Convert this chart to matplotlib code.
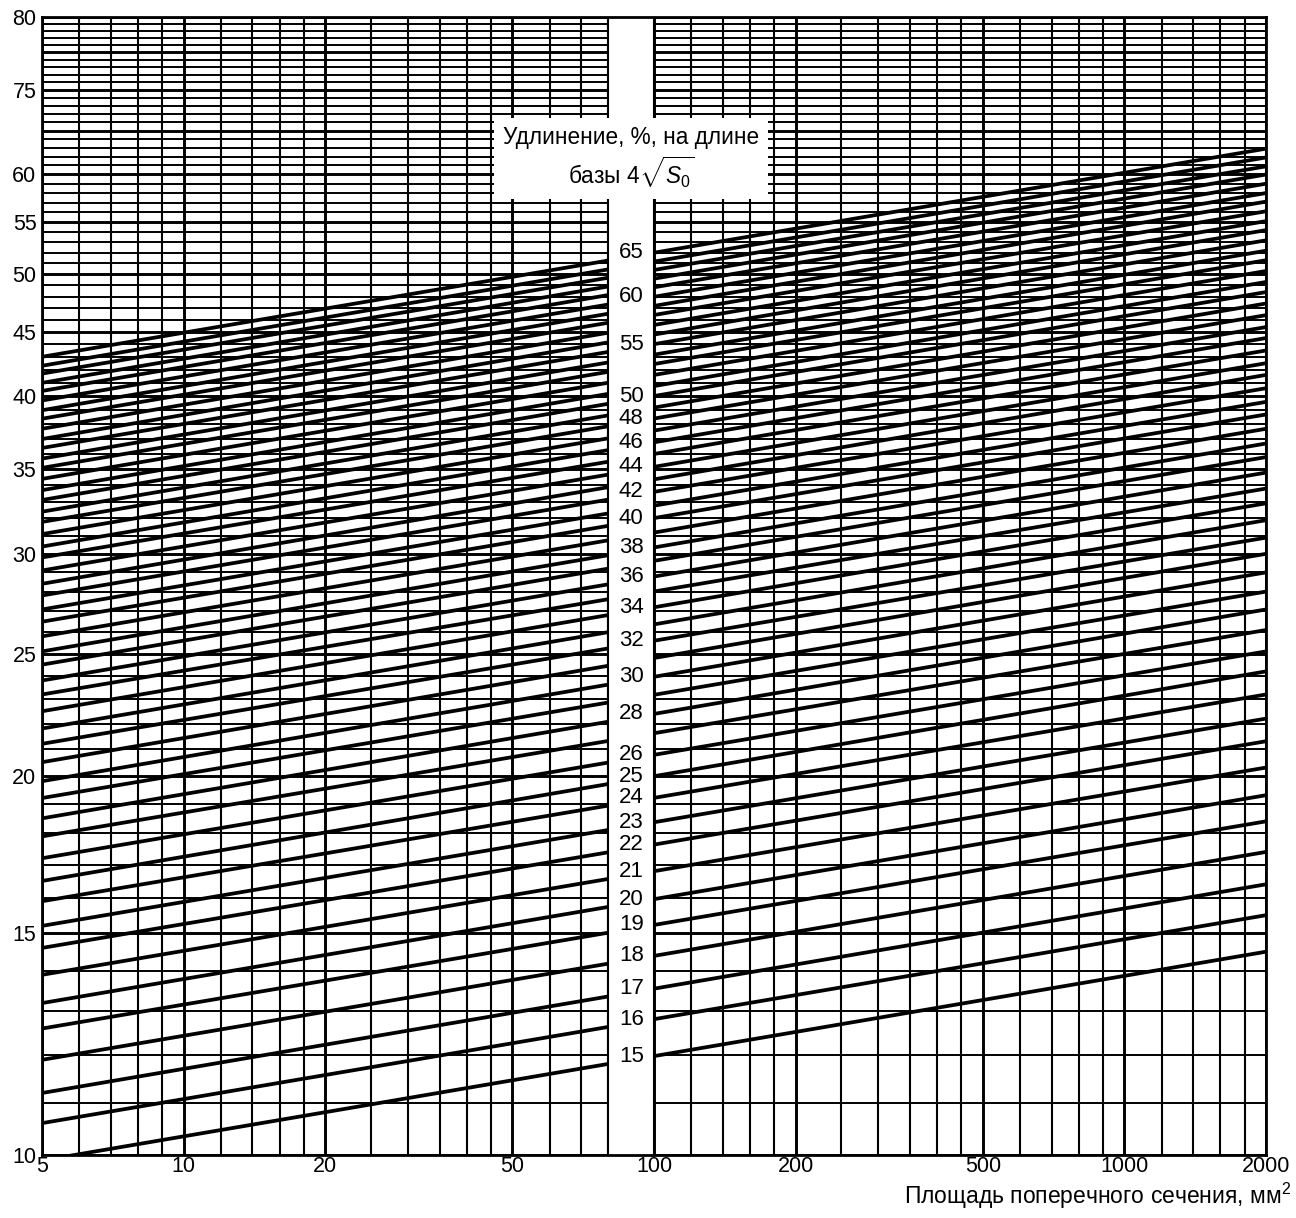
import matplotlib
matplotlib.use("Agg")
import matplotlib.pyplot as plt
import numpy as np

plt.rcParams['font.family'] = ['Liberation Sans', 'DejaVu Sans']
plt.rcParams['mathtext.fontset'] = 'custom'
plt.rcParams['mathtext.rm'] = 'Liberation Sans'
plt.rcParams['mathtext.it'] = 'Liberation Sans:italic'

# =============================================================================
# data
# =============================================================================
# elongation on gauge length 4*sqrt(S0), one line each
elong = list(range(15, 66))
# value of each line at S0 = 5 mm2 (left edge) and S0 = 2000 mm2 (right edge)
y_left = [9.9, 10.6, 11.2, 11.9, 12.6, 13.2, 13.9, 14.6, 15.2, 15.9,
          16.5, 17.2, 17.9, 18.5, 19.2, 19.8, 20.5, 21.2, 21.8, 22.5,
          23.2, 23.8, 24.5, 25.1, 25.8, 26.5, 27.1, 27.8, 28.4, 29.1,
          29.8, 30.4, 31.1, 31.8, 32.4, 33.1, 33.7, 34.4, 35.1, 35.7,
          36.4, 37.0, 37.7, 38.4, 39.0, 39.7, 40.4, 41.0, 41.7, 42.3, 43.0]
y_right = [14.5, 15.5, 16.4, 17.4, 18.4, 19.3, 20.3, 21.3, 22.2, 23.2,
           24.2, 25.1, 26.1, 27.1, 28.0, 29.0, 30.0, 30.9, 31.9, 32.9,
           33.8, 34.8, 35.8, 36.7, 37.7, 38.7, 39.6, 40.6, 41.6, 42.5,
           43.5, 44.5, 45.4, 46.4, 47.4, 48.4, 49.3, 50.3, 51.3, 52.2,
           53.2, 54.2, 55.1, 56.1, 57.1, 58.0, 59.0, 60.0, 60.9, 61.9, 62.9]
area_ends = [5, 2000]

# which lines get a number in the blank column
labelled = list(range(15, 27)) + list(range(28, 51, 2)) + [55, 60, 65]

x_ticks = [5, 10, 20, 50, 100, 200, 500, 1000, 2000]
y_ticks = [10, 15, 20, 25, 30, 35, 40, 45, 50, 55, 60, 70, 80]
y_ticklabels = ['10', '15', '20', '25', '30', '35', '40', '45', '50', '55', '60', '75', '80']

v_grid = [5, 6, 7, 8, 9, 10, 12, 14, 16, 18, 20, 25, 30, 35, 40, 45, 50, 60, 70, 80,
          100, 120, 140, 160, 180, 200, 250, 300, 350, 400, 450, 500, 600, 700, 800, 900,
          1000, 1200, 1400, 1600, 1800, 2000]
h_grid = list(range(10, 81))

gap = (80, 100)  # blank column for the line numbers

# =============================================================================
# figure
# =============================================================================
fig = plt.figure(figsize=(12.96, 12.18), dpi=100)
ax = fig.add_axes([0.0324, 0.0517, 0.9445, 0.9343])
ax.set_xscale('log')
ax.set_yscale('log')
ax.set_xlim(5, 2000)
ax.set_ylim(10, 80)

# grid
for v in v_grid:
    lw = 2.1 if v in x_ticks else 1.5
    ax.axvline(v, color='black', lw=lw, zorder=1)
for h in h_grid:
    lw = 2.1 if h % 5 == 0 else 1.4
    ax.axhline(h, color='black', lw=lw, zorder=1)

# conversion lines
for a, yl, yr in zip(elong, y_left, y_right):
    ax.plot(area_ends, [yl, yr], color='black', lw=2.7, zorder=2,
            solid_capstyle='butt')

# blank column with the numbers
ax.axvspan(gap[0], gap[1], facecolor='white', edgecolor='none', zorder=3)
for g in gap:
    ax.axvline(g, color='black', lw=1.5, zorder=4)

xm = np.sqrt(gap[0] * gap[1])
lx = np.log10(area_ends)
for a, yl, yr in zip(elong, y_left, y_right):
    if a not in labelled:
        continue
    # position of the line at S0 = 100
    ly = np.interp(np.log10(100), lx, np.log10([yl, yr]))
    ax.text(xm, 10 ** ly, str(a), ha='center', va='center', fontsize=16, zorder=5)

ax.text(xm, 61.8, 'Удлинение, %, на длине\nбазы $4\\sqrt{S_0}$', ha='center', va='center',
        multialignment='center', fontsize=16.3, zorder=6, linespacing=1.2,
        bbox=dict(facecolor='white', edgecolor='none', boxstyle='square,pad=0.4'))

# axes
ax.set_xticks(x_ticks)
ax.set_xticklabels([str(v) for v in x_ticks])
ax.set_xticks([], minor=True)
ax.set_yticks(y_ticks)
ax.set_yticklabels(y_ticklabels)
ax.set_yticks([], minor=True)
ax.tick_params(length=0, labelsize=15.5)
ax.tick_params(axis='x', pad=1)
ax.tick_params(axis='y', pad=4)
for s in ax.spines.values():
    s.set_linewidth(2.0)
    s.set_zorder(7)

fig.text(0.996, 0.006, 'Площадь поперечного сечения, мм$^2$', ha='right', va='bottom', fontsize=16.5)

fig.savefig('out.png', dpi=100)
